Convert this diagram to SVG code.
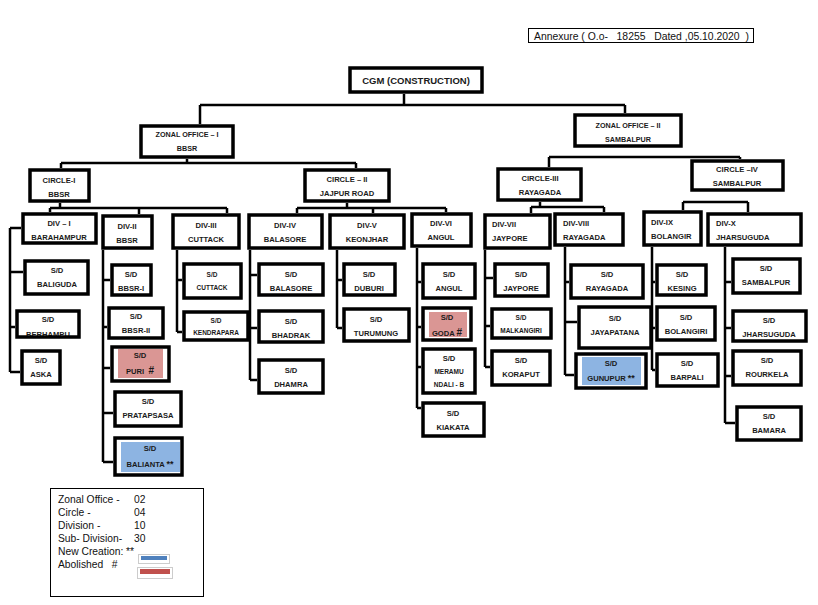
<svg xmlns="http://www.w3.org/2000/svg" width="818" height="605" viewBox="0 0 818 605">
<style>
.b{fill:none;stroke:#000;stroke-width:3.5}
.t{font-family:"Liberation Sans",Arial,sans-serif;font-weight:bold;font-size:7.6px;text-anchor:middle;fill:#1a1a1a}
.s{font-size:6.5px}
.l{text-anchor:start}
.g{font-family:"Liberation Sans",Arial,sans-serif;font-size:10.3px;fill:#111}
.pk{fill:#DA9694}
.bl{fill:#8DB4E2}
#connectors path{fill:none;stroke:#000;stroke-width:2.5}
</style>
<rect width="818" height="605" fill="#fff"/>
<g id="connectors">
<path d="M404,94V105M200,105H625M200,105V124M625,105V113"/>
<path d="M187,159V163M61,163H356M61,163V168M356,163V168"/>
<path d="M549,157H740M549,157V167M740,157V159"/>
<path d="M60,203V208M50,208H227M50,208V212M139,208V214M227,208V213"/>
<path d="M347,203V208M297,208H446M297,208V213M373,208V213M446,208V212"/>
<path d="M540,202V207M531,207H604M531,207V213M604,207V212"/>
<path d="M683,202H748M683,202V210M748,202V212"/>
<path d="M10,228V372M10,228H21M10,272H23M10,327H15M10,372H20"/>
<path d="M103,250V462M103,280H110M103,327H107M103,368H110M103,413H113M103,462H113"/>
<path d="M177,250V332M177,280H182M177,332H182"/>
<path d="M250,250V380M250,275H257M250,328H257M250,380H257"/>
<path d="M337,250V328M337,280H342M337,328H342"/>
<path d="M417,248V408M417,282H421M417,327H421M417,367H421M417,408H421"/>
<path d="M485,250V367M485,278H493M485,326H490M485,367H490"/>
<path d="M565,247V375M565,282H569M565,322H577M565,375H574"/>
<path d="M652,247V370M652,282H655M652,328H655M652,370H655"/>
<path d="M725,247V423M725,282H731M725,328H731M725,376H731M725,423H735"/>
</g>
<g id="annexure">
<rect x="528.5" y="28.5" width="225" height="14" fill="none" stroke="#000" stroke-width="1"/>
<text class="g" x="534" y="39.5" xml:space="preserve" style="font-size:10.4px">Annexure ( O.o-   18255   Dated ,05.10.2020  )</text>
</g>
<g id="cgm"><text class="t" x="416" y="84" style="font-size:9.5px">CGM (CONSTRUCTION)</text><rect class="b" x="350" y="68" width="132" height="24"/></g>
<g id="zo1"><text class="t" x="187" y="137" style="font-size:7.2px">ZONAL OFFICE – I</text><text class="t" x="187" y="151" style="font-size:7.2px">BBSR</text><rect class="b" x="141" y="126" width="92" height="31"/></g>
<g id="zo2"><text class="t" x="628" y="128" style="font-size:7.2px">ZONAL OFFICE – II</text><text class="t" x="628" y="142" style="font-size:7.2px">SAMBALPUR</text><rect class="b" x="575" y="115" width="106" height="31"/></g>
<g id="c1"><text class="t" x="59" y="183">CIRCLE-I</text><text class="t" x="59" y="197">BBSR</text><rect class="b" x="30" y="170" width="59" height="31"/></g>
<g id="c2"><text class="t" x="347" y="182">CIRCLE – II</text><text class="t" x="347" y="196">JAJPUR ROAD</text><rect class="b" x="305" y="170" width="84" height="31"/></g>
<g id="c3"><text class="t" x="540" y="181">CIRCLE-III</text><text class="t" x="540" y="195">RAYAGADA</text><rect class="b" x="498" y="169" width="83" height="31"/></g>
<g id="c4"><text class="t" x="737" y="172">CIRCLE –IV</text><text class="t" x="737" y="186">SAMBALPUR</text><rect class="b" x="692" y="161" width="91" height="29"/></g>
<g id="d1"><text class="t" x="59" y="226">DIV – I</text><text class="t" x="59" y="240">BARAHAMPUR</text><rect class="b" x="23" y="214" width="73" height="29"/></g>
<g id="d2"><text class="t" x="127" y="229">DIV-II</text><text class="t" x="127" y="243">BBSR</text><rect class="b" x="103" y="216" width="49" height="32"/></g>
<g id="d3"><text class="t" x="206" y="228">DIV-III</text><text class="t" x="206" y="242">CUTTACK</text><rect class="b" x="173" y="215" width="66" height="33"/></g>
<g id="d4"><text class="t" x="285" y="228">DIV-IV</text><text class="t" x="285" y="242">BALASORE</text><rect class="b" x="249" y="215" width="73" height="33"/></g>
<g id="d5"><text class="t" x="367" y="228">DIV-V</text><text class="t" x="367" y="242">KEONJHAR</text><rect class="b" x="330" y="215" width="74" height="33"/></g>
<g id="d6"><text class="t" x="441" y="226">DIV-VI</text><text class="t" x="441" y="240">ANGUL</text><rect class="b" x="412" y="214" width="59" height="32"/></g>
<g id="d7"><text class="t l" x="492" y="227">DIV-VII</text><text class="t l" x="492" y="241">JAYPORE</text><rect class="b" x="485" y="215" width="65" height="33"/></g>
<g id="d8"><text class="t l" x="563" y="226">DIV-VIII</text><text class="t l" x="563" y="240">RAYAGADA</text><rect class="b" x="555" y="214" width="68" height="31"/></g>
<g id="d9"><text class="t l" x="651" y="225">DIV-IX</text><text class="t l" x="651" y="239">BOLANGIR</text><rect class="b" x="644" y="212" width="57" height="33"/></g>
<g id="d10"><text class="t l" x="716" y="226">DIV-X</text><text class="t l" x="716" y="240">JHARSUGUDA</text><rect class="b" x="708" y="214" width="93" height="31"/></g>
<g id="sd-baliguda"><text class="t" x="57" y="273">S/D</text><text class="t" x="57" y="287">BALIGUDA</text><rect class="b" x="25" y="261" width="63" height="33"/></g>
<g id="sd-berhampu"><text class="t" x="48" y="322">S/D</text><text class="t" x="48" y="337">BERHAMPU</text><rect class="b" x="17" y="311" width="62" height="26"/></g>
<g id="sd-aska"><text class="t" x="41" y="363">S/D</text><text class="t" x="41" y="377">ASKA</text><rect class="b" x="22" y="351" width="38" height="33"/></g>
<g id="sd-bbsr1"><text class="t" x="131" y="277">S/D</text><text class="t" x="131" y="291">BBSR-I</text><rect class="b" x="112" y="265" width="39" height="30"/></g>
<g id="sd-bbsr2"><text class="t" x="136" y="319">S/D</text><text class="t" x="136" y="333">BBSR-II</text><rect class="b" x="109" y="308" width="54" height="30"/></g>
<g id="sd-puri"><rect class="pk" x="118" y="349" width="45" height="29"/><text class="t" x="140" y="358">S/D</text><text class="t" x="140" y="374" xml:space="preserve">PURI  <tspan style="font-size:10px">#</tspan></text><rect class="b" x="112" y="347" width="57" height="34"/></g>
<g id="sd-pratapsasa"><text class="t" x="148" y="404">S/D</text><text class="t" x="148" y="418">PRATAPSASA</text><rect class="b" x="115" y="392" width="66" height="34"/></g>
<g id="sd-balianta"><rect class="bl" x="121" y="442" width="59" height="30"/><text class="t" x="150" y="451">S/D</text><text class="t" x="150" y="467">BALIANTA <tspan style="font-size:9px">**</tspan></text><rect class="b" x="115" y="438" width="67" height="37"/></g>
<g id="sd-cuttack"><text class="t s" x="212" y="277">S/D</text><text class="t s" x="212" y="290">CUTTACK</text><rect class="b" x="184" y="264" width="57" height="34"/></g>
<g id="sd-kendrapara"><text class="t s" x="216" y="323">S/D</text><text class="t s" x="216" y="335">KENDRAPARA</text><rect class="b" x="184" y="312" width="64" height="28"/></g>
<g id="sd-balasore"><text class="t" x="291" y="277">S/D</text><text class="t" x="291" y="291">BALASORE</text><rect class="b" x="259" y="264" width="64" height="31"/></g>
<g id="sd-bhadrak"><text class="t" x="291" y="324">S/D</text><text class="t" x="291" y="338">BHADRAK</text><rect class="b" x="259" y="311" width="64" height="31"/></g>
<g id="sd-dhamra"><text class="t" x="291" y="373">S/D</text><text class="t" x="291" y="387">DHAMRA</text><rect class="b" x="259" y="360" width="64" height="33"/></g>
<g id="sd-duburi"><text class="t" x="369" y="277">S/D</text><text class="t" x="369" y="291">DUBURI</text><rect class="b" x="344" y="264" width="51" height="31"/></g>
<g id="sd-turumung"><text class="t" x="376" y="322">S/D</text><text class="t" x="376" y="336">TURUMUNG</text><rect class="b" x="344" y="309" width="65" height="32"/></g>
<g id="sd-angul"><text class="t" x="449" y="277">S/D</text><text class="t" x="449" y="291">ANGUL</text><rect class="b" x="423" y="264" width="52" height="34"/></g>
<g id="sd-goda"><rect class="pk" x="429" y="312" width="38" height="25"/><text class="t" x="447" y="320">S/D</text><text class="t" x="447" y="336">GODA <tspan style="font-size:10px">#</tspan></text><rect class="b" x="423" y="308" width="48" height="32"/></g>
<g id="sd-meramundali"><text class="t" x="449" y="361">S/D</text><text class="t s" x="449" y="374">MERAMU</text><text class="t s" x="449" y="387">NDALI - B</text><rect class="b" x="423" y="349" width="52" height="44"/></g>
<g id="sd-kiakata"><text class="t" x="453" y="416">S/D</text><text class="t" x="453" y="430">KIAKATA</text><rect class="b" x="423" y="403" width="61" height="33"/></g>
<g id="sd-jaypore"><text class="t" x="521" y="277">S/D</text><text class="t" x="521" y="291">JAYPORE</text><rect class="b" x="495" y="264" width="53" height="32"/></g>
<g id="sd-malkangiri"><text class="t s" x="521" y="320">S/D</text><text class="t s" x="521" y="333">MALKANGIRI</text><rect class="b" x="492" y="309" width="59" height="29"/></g>
<g id="sd-koraput"><text class="t" x="521" y="363">S/D</text><text class="t" x="521" y="377">KORAPUT</text><rect class="b" x="492" y="351" width="58" height="34"/></g>
<g id="sd-rayagada"><text class="t" x="607" y="277">S/D</text><text class="t" x="607" y="291">RAYAGADA</text><rect class="b" x="571" y="265" width="72" height="33"/></g>
<g id="sd-jayapatana"><text class="t" x="615" y="321">S/D</text><text class="t" x="615" y="335">JAYAPATANA</text><rect class="b" x="579" y="307" width="72" height="41"/></g>
<g id="sd-gunupur"><rect class="bl" x="582" y="357" width="59" height="28"/><text class="t" x="611" y="366">S/D</text><text class="t" x="611" y="381">GUNUPUR <tspan style="font-size:9px">**</tspan></text><rect class="b" x="576" y="354" width="70" height="34"/></g>
<g id="sd-kesing"><text class="t" x="682" y="277">S/D</text><text class="t" x="682" y="291">KESING</text><rect class="b" x="657" y="265" width="49" height="30"/></g>
<g id="sd-bolangiri"><text class="t" x="686" y="320">S/D</text><text class="t" x="686" y="334">BOLANGIRI</text><rect class="b" x="657" y="307" width="58" height="33"/></g>
<g id="sd-barpali"><text class="t" x="687" y="366">S/D</text><text class="t" x="687" y="380">BARPALI</text><rect class="b" x="657" y="354" width="61" height="32"/></g>
<g id="sd-sambalpur"><text class="t" x="766" y="271">S/D</text><text class="t" x="766" y="285">SAMBALPUR</text><rect class="b" x="733" y="259" width="67" height="34"/></g>
<g id="sd-jharsuguda"><text class="t" x="769" y="323">S/D</text><text class="t" x="769" y="337">JHARSUGUDA</text><rect class="b" x="733" y="311" width="73" height="30"/></g>
<g id="sd-rourkela"><text class="t" x="767" y="363">S/D</text><text class="t" x="767" y="377">ROURKELA</text><rect class="b" x="733" y="351" width="68" height="34"/></g>
<g id="sd-bamara"><text class="t" x="769" y="419">S/D</text><text class="t" x="769" y="433">BAMARA</text><rect class="b" x="737" y="407" width="64" height="33"/></g>
<g id="legend">
<rect x="50.5" y="488.5" width="153" height="108" fill="none" stroke="#000" stroke-width="1"/>
<text class="g" x="58" y="503">Zonal Office -</text><text class="g" x="134" y="503">02</text>
<text class="g" x="58" y="516">Circle -</text><text class="g" x="134" y="516">04</text>
<text class="g" x="58" y="529">Division -</text><text class="g" x="134" y="529">10</text>
<text class="g" x="58" y="542">Sub- Division-</text><text class="g" x="134" y="542">30</text>
<text class="g" x="58" y="555">New Creation: **</text>
<text class="g" x="58" y="568" xml:space="preserve">Abolished   #</text>
<rect x="138.5" y="554.5" width="31" height="9" fill="#fff" stroke="#ccc" stroke-width="1"/>
<rect x="141" y="556" width="26" height="4" fill="#4F81BD"/>
<rect x="137.5" y="567.5" width="35" height="11" fill="#fff" stroke="#ccc" stroke-width="1"/>
<rect x="140" y="569" width="30" height="5" fill="#C0504D"/>
</g>
</svg>
